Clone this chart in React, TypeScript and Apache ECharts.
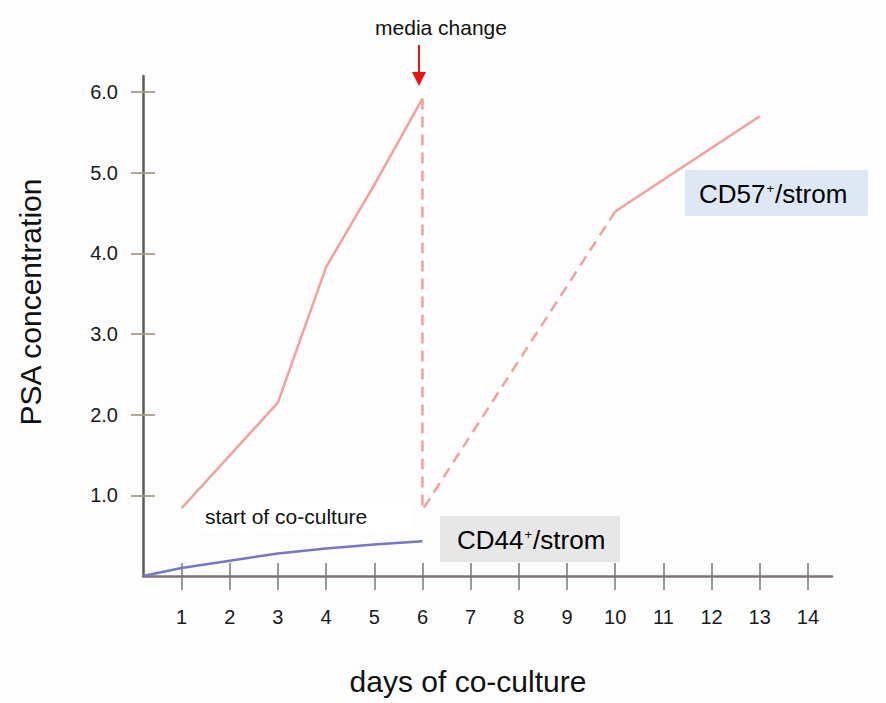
import React, { useEffect, useRef } from "react";
import * as echarts from "echarts";

const dayTicks = [1, 2, 3, 4, 5, 6, 7, 8, 9, 10, 11, 12, 13, 14];
const concTicks = [1, 2, 3, 4, 5, 6];

const cd57BeforeDays = [1, 3, 4, 5, 6];
const cd57BeforeValues = [0.84, 2.15, 3.83, 4.85, 5.92];
const cd57ChangeDays = [6, 6, 10];
const cd57ChangeValues = [5.92, 0.82, 4.52];
const cd57AfterDays = [10, 13];
const cd57AfterValues = [4.52, 5.7];
const cd44Days = [0.2, 1, 2, 3, 4, 5, 6];
const cd44Values = [0, 0.1, 0.19, 0.28, 0.34, 0.39, 0.43];

const pair = (xs: number[], ys: number[]) => xs.map((x, i) => [x, ys[i]]);

const RED = "#f2a09c";
const BLUE = "#7476cc";
const FONT = "'Liberation Sans', Arial, sans-serif";

export default function App() {
  const ref = useRef<HTMLDivElement>(null);
  useEffect(() => {
    document.body.style.margin = "0";
    const chart = echarts.init(ref.current!, undefined, { renderer: "svg" });
    const xBase = {
      type: "value" as const,
      min: 0.2,
      max: 14.5,
      splitLine: { show: false },
    };
    const yBase = {
      type: "value" as const,
      min: 0,
      max: 6.2,
      splitLine: { show: false },
    };
    const richSup = {
      a: { fontSize: 26, fontFamily: FONT, color: "#111" },
      s: { fontSize: 13, fontFamily: FONT, color: "#111", padding: [0, 1, 11, 1] },
    };
    chart.setOption({
      animation: false,
      backgroundColor: "#fdfdfd",
      textStyle: { fontFamily: FONT },
      grid: { left: 143, right: 54, top: 76, bottom: 127 },
      xAxis: [
        {
          ...xBase,
          position: "bottom",
          axisLine: { show: true, lineStyle: { color: "#7d7373", width: 2.5 } },
          axisTick: {
            show: true,
            inside: false,
            length: 14,
            customValues: dayTicks,
            lineStyle: { color: "#777", width: 1.5 },
          },
          axisLabel: {
            show: true,
            customValues: dayTicks,
            margin: 31,
            fontSize: 20,
            color: "#1a1a1a",
            fontFamily: FONT,
          },
        },
        {
          ...xBase,
          position: "bottom",
          axisLine: { show: false },
          axisTick: {
            show: true,
            inside: true,
            length: 13,
            customValues: dayTicks,
            lineStyle: { color: "#777", width: 1.5 },
          },
          axisLabel: { show: false },
        },
      ],
      yAxis: [
        {
          ...yBase,
          position: "left",
          axisLine: { show: true, lineStyle: { color: "#5e5a58", width: 2.5 } },
          axisTick: {
            show: true,
            inside: false,
            length: 12,
            customValues: concTicks,
            lineStyle: { color: "#a89e84", width: 1.8 },
          },
          axisLabel: {
            show: true,
            customValues: concTicks,
            margin: 25,
            fontSize: 20,
            color: "#1a1a1a",
            fontFamily: FONT,
            formatter: (v: number) => v.toFixed(1),
          },
        },
        {
          ...yBase,
          position: "left",
          axisLine: { show: false },
          axisTick: {
            show: true,
            inside: true,
            length: 12,
            customValues: concTicks,
            lineStyle: { color: "#a89e84", width: 1.8 },
          },
          axisLabel: { show: false },
        },
      ],
      series: [
        {
          name: "CD57+/strom",
          type: "line",
          data: pair(cd57BeforeDays, cd57BeforeValues),
          showSymbol: false,
          symbol: "none",
          lineStyle: { color: RED, width: 2.5 },
        },
        {
          name: "CD57+/strom media change",
          type: "line",
          data: pair(cd57ChangeDays, cd57ChangeValues),
          showSymbol: false,
          symbol: "none",
          lineStyle: { color: RED, width: 2.5, type: [11, 7] },
        },
        {
          name: "CD57+/strom after",
          type: "line",
          data: pair(cd57AfterDays, cd57AfterValues),
          showSymbol: false,
          symbol: "none",
          lineStyle: { color: RED, width: 2.5 },
        },
        {
          name: "CD44+/strom",
          type: "line",
          data: pair(cd44Days, cd44Values),
          showSymbol: false,
          symbol: "none",
          lineStyle: { color: BLUE, width: 2.5 },
        },
      ],
      graphic: [
        {
          type: "text",
          z: 100,
          style: {
            text: "PSA concentration",
            x: 30,
            y: 302,
            fontSize: 30,
            fontFamily: FONT,
            fill: "#111",
            align: "center",
            verticalAlign: "middle",
          },
          rotation: Math.PI / 2,
          originX: 30,
          originY: 302,
        },
        {
          type: "text",
          z: 100,
          style: {
            text: "days of co-culture",
            x: 468,
            y: 681,
            fontSize: 30,
            fontFamily: FONT,
            fill: "#111",
            align: "center",
            verticalAlign: "middle",
          },
        },
        {
          type: "text",
          z: 100,
          style: {
            text: "media change",
            x: 441,
            y: 27,
            fontSize: 21,
            fontFamily: FONT,
            fill: "#111",
            align: "center",
            verticalAlign: "middle",
          },
        },
        {
          type: "line",
          z: 100,
          shape: { x1: 419, y1: 45, x2: 419, y2: 74 },
          style: { stroke: "#ee1111", lineWidth: 2 },
        },
        {
          type: "polygon",
          z: 100,
          shape: { points: [[412, 72], [426, 72], [419, 86]] },
          style: { fill: "#ee1111" },
        },
        {
          type: "rect",
          z: 90,
          shape: { x: 196, y: 503, width: 214, height: 27 },
          style: { fill: "#ffffff" },
        },
        {
          type: "text",
          z: 100,
          style: {
            text: "start of co-culture",
            x: 205,
            y: 516,
            fontSize: 21,
            fontFamily: FONT,
            fill: "#111",
            align: "left",
            verticalAlign: "middle",
          },
        },
        {
          type: "rect",
          z: 90,
          shape: { x: 440, y: 516, width: 180, height: 46 },
          style: { fill: "#e7e7e7" },
        },
        {
          type: "text",
          z: 100,
          style: {
            text: "{a|CD44}{s|+}{a|/strom}",
            x: 457,
            y: 540,
            align: "left",
            verticalAlign: "middle",
            rich: richSup,
          },
        },
        {
          type: "rect",
          z: 90,
          shape: { x: 685, y: 170, width: 183, height: 46 },
          style: { fill: "#dde8f4" },
        },
        {
          type: "text",
          z: 100,
          style: {
            text: "{a|CD57}{s|+}{a|/strom}",
            x: 699,
            y: 194,
            align: "left",
            verticalAlign: "middle",
            rich: richSup,
          },
        },
      ],
    });
    return () => chart.dispose();
  }, []);
  return <div ref={ref} style={{ width: 886, height: 703 }} />;
}
